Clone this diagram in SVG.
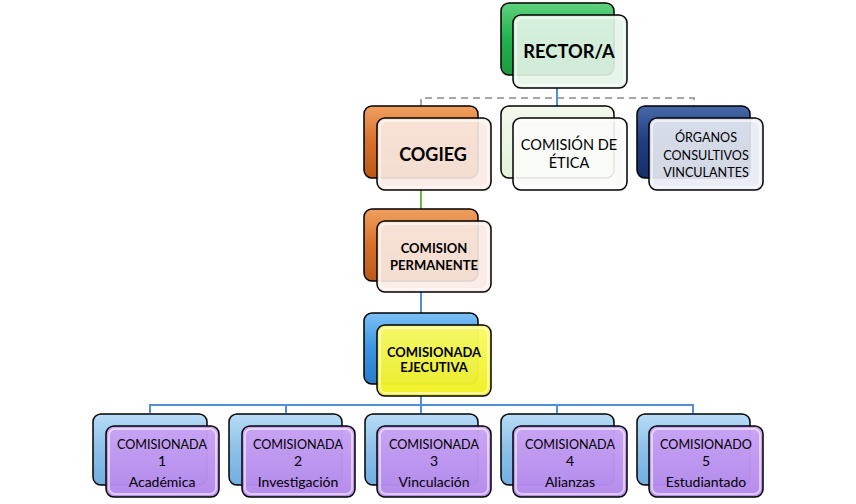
<svg xmlns="http://www.w3.org/2000/svg" width="856" height="504" viewBox="0 0 856 504">
<defs>
<linearGradient id="gGreen" x1="0" y1="0" x2="0" y2="1"><stop offset="0" stop-color="#5fd27e"/><stop offset="0.5" stop-color="#22b24c"/><stop offset="1" stop-color="#1a9a3e"/></linearGradient>
<linearGradient id="gOrange" x1="0" y1="0" x2="0" y2="1"><stop offset="0" stop-color="#f0a060"/><stop offset="0.5" stop-color="#d8702a"/><stop offset="1" stop-color="#b95a18"/></linearGradient>
<linearGradient id="gPale" x1="0" y1="0" x2="0" y2="1"><stop offset="0" stop-color="#f3f8ec"/><stop offset="1" stop-color="#e6f0da"/></linearGradient>
<linearGradient id="gNavy" x1="0" y1="0" x2="0" y2="1"><stop offset="0" stop-color="#4868a8"/><stop offset="0.5" stop-color="#1f3d80"/><stop offset="1" stop-color="#15306a"/></linearGradient>
<linearGradient id="gBlue" x1="0" y1="0" x2="0" y2="1"><stop offset="0" stop-color="#7cc0f5"/><stop offset="0.5" stop-color="#3c94e4"/><stop offset="1" stop-color="#2a7ccc"/></linearGradient>
<linearGradient id="gLBlue" x1="0" y1="0" x2="0" y2="1"><stop offset="0" stop-color="#b8dcf6"/><stop offset="0.5" stop-color="#8cc0ea"/><stop offset="1" stop-color="#72aee0"/></linearGradient>
<linearGradient id="gYellow" x1="0" y1="0" x2="0" y2="1"><stop offset="0" stop-color="#fafa66"/><stop offset="1" stop-color="#f0f020"/></linearGradient>
<linearGradient id="gPurple" x1="0" y1="0" x2="0" y2="1"><stop offset="0" stop-color="#c9a2f4"/><stop offset="1" stop-color="#b488ec"/></linearGradient>
</defs>
<style>
.back{stroke:#000;stroke-width:1.5}
.front{stroke:#000;stroke-width:1.5;fill-opacity:0.9}
.solid{fill-opacity:0.97}
.gloss{fill:none;stroke:#fff;stroke-opacity:0.55;stroke-width:2}
.t{font-family:Lato,"Liberation Sans",sans-serif;fill:#000;text-anchor:middle}
.b{font-weight:bold}
.cap{font-size:12.6px}
.low{font-size:14px}
.conn{fill:none;stroke-width:2}
</style>
<g id="connectors">
<path class="conn" d="M421,106 V98 H694 V106" stroke="#a6a6a6" stroke-dasharray="7,5"/>
<path class="conn" d="M557,88 V106" stroke="#4f8fd6"/>
<path class="conn" d="M421,190 V209" stroke="#6fb64a"/>
<path class="conn" d="M421,292 V313" stroke="#4f8fd6"/>
<path class="conn" d="M421,396 V405 M150,413 V405 H693 V413 M286,405 V413 M421,405 V413 M557,405 V413" stroke="#4f8fd6"/>
</g>
<g id="rector">
<rect class="back" x="501" y="3" width="113" height="72" rx="8" fill="url(#gGreen)"/>
<rect class="front" x="513" y="15" width="114" height="73" rx="8" fill="#e6f4e9"/>
<rect class="gloss" x="516" y="18" width="108" height="67" rx="6"/>
<text class="t b" x="569" y="58" font-size="18.3">RECTOR/A</text>
</g>
<g id="cogieg">
<rect class="back" x="364" y="106" width="114" height="72" rx="8" fill="url(#gOrange)"/>
<rect class="front" x="377" y="118" width="114" height="72" rx="8" fill="#f9ebe5"/>
<rect class="gloss" x="380" y="121" width="108" height="66" rx="6"/>
<text class="t b" x="433" y="161" font-size="18">COGIEG</text>
</g>
<g id="etica">
<rect class="back" x="501" y="106" width="113" height="72" rx="8" fill="url(#gPale)"/>
<rect class="front" x="513" y="118" width="114" height="72" rx="8" fill="#fbfcf9"/>
<rect class="gloss" x="516" y="121" width="108" height="66" rx="6"/>
<text class="t" x="569" y="150" font-size="14.5">COMISIÓN DE</text>
<text class="t" x="569" y="168" font-size="14.5">ÉTICA</text>
</g>
<g id="organos">
<rect class="back" x="637" y="106" width="113" height="72" rx="8" fill="url(#gNavy)"/>
<rect class="front" x="649" y="118" width="114" height="72" rx="8" fill="#e9ebf3"/>
<rect class="gloss" x="652" y="121" width="108" height="66" rx="6"/>
<text class="t" x="706" y="142" font-size="12.6">ÓRGANOS</text>
<text class="t" x="706" y="160" font-size="12.6">CONSULTIVOS</text>
<text class="t" x="706" y="177" font-size="12.6">VINCULANTES</text>
</g>
<g id="permanente">
<rect class="back" x="364" y="209" width="114" height="72" rx="8" fill="url(#gOrange)"/>
<rect class="front" x="377" y="221" width="114" height="71" rx="8" fill="#f9ebe5"/>
<rect class="gloss" x="380" y="224" width="108" height="65" rx="6"/>
<text class="t b" x="434" y="253" font-size="13">COMISION</text>
<text class="t b" x="434" y="270" font-size="13">PERMANENTE</text>
</g>
<g id="ejecutiva">
<rect class="back" x="364" y="313" width="114" height="71" rx="8" fill="url(#gBlue)"/>
<rect class="front solid" x="377" y="325" width="114" height="71" rx="8" fill="url(#gYellow)"/>
<rect class="gloss" x="380" y="328" width="108" height="65" rx="6"/>
<text class="t b" x="434" y="357" font-size="13">COMISIONADA</text>
<text class="t b" x="434" y="372" font-size="13">EJECUTIVA</text>
</g>
<g id="c1">
<rect class="back" x="93" y="414" width="114" height="71" rx="8" fill="url(#gLBlue)"/>
<rect class="front solid" x="106" y="426" width="113" height="71" rx="8" fill="url(#gPurple)"/>
<rect class="gloss" x="109" y="429" width="107" height="65" rx="6"/>
<text class="t cap" x="162" y="449">COMISIONADA</text>
<text class="t low" x="162" y="466">1</text>
<text class="t low" x="162" y="487">Académica</text>
</g>
<g id="c2">
<rect class="back" x="229" y="414" width="113" height="71" rx="8" fill="url(#gLBlue)"/>
<rect class="front solid" x="242" y="426" width="113" height="71" rx="8" fill="url(#gPurple)"/>
<rect class="gloss" x="245" y="429" width="107" height="65" rx="6"/>
<text class="t cap" x="298" y="449">COMISIONADA</text>
<text class="t low" x="298" y="466">2</text>
<text class="t low" x="298" y="487">Investigación</text>
</g>
<g id="c3">
<rect class="back" x="365" y="414" width="113" height="71" rx="8" fill="url(#gLBlue)"/>
<rect class="front solid" x="377" y="426" width="114" height="71" rx="8" fill="url(#gPurple)"/>
<rect class="gloss" x="380" y="429" width="108" height="65" rx="6"/>
<text class="t cap" x="434" y="449">COMISIONADA</text>
<text class="t low" x="434" y="466">3</text>
<text class="t low" x="434" y="487">Vinculación</text>
</g>
<g id="c4">
<rect class="back" x="501" y="414" width="113" height="71" rx="8" fill="url(#gLBlue)"/>
<rect class="front solid" x="513" y="426" width="114" height="71" rx="8" fill="url(#gPurple)"/>
<rect class="gloss" x="516" y="429" width="108" height="65" rx="6"/>
<text class="t cap" x="570" y="449">COMISIONADA</text>
<text class="t low" x="570" y="466">4</text>
<text class="t low" x="570" y="487">Alianzas</text>
</g>
<g id="c5">
<rect class="back" x="637" y="414" width="113" height="71" rx="8" fill="url(#gLBlue)"/>
<rect class="front solid" x="649" y="426" width="114" height="71" rx="8" fill="url(#gPurple)"/>
<rect class="gloss" x="652" y="429" width="108" height="65" rx="6"/>
<text class="t cap" x="706" y="449">COMISIONADO</text>
<text class="t low" x="706" y="466">5</text>
<text class="t low" x="706" y="487">Estudiantado</text>
</g>
</svg>
